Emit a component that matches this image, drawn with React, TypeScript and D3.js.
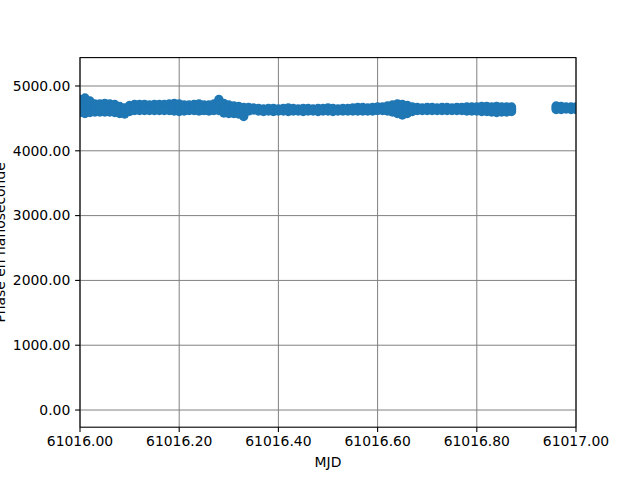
import React from "react";
import * as d3 from "d3";

const mjd = [
  61016.00, 61016.01, 61016.02, 61016.03, 61016.04, 61016.05, 61016.06, 61016.07, 61016.08, 61016.09,
  61016.10, 61016.11, 61016.12, 61016.13, 61016.14, 61016.15, 61016.16, 61016.17, 61016.18, 61016.19,
  61016.20, 61016.21, 61016.22, 61016.23, 61016.24, 61016.25, 61016.26, 61016.27, 61016.28, 61016.29,
  61016.30, 61016.31, 61016.32, 61016.33, 61016.34, 61016.35, 61016.36, 61016.37, 61016.38, 61016.39,
  61016.40, 61016.41, 61016.42, 61016.43, 61016.44, 61016.45, 61016.46, 61016.47, 61016.48, 61016.49,
  61016.50, 61016.51, 61016.52, 61016.53, 61016.54, 61016.55, 61016.56, 61016.57, 61016.58, 61016.59,
  61016.60, 61016.61, 61016.62, 61016.63, 61016.64, 61016.65, 61016.66, 61016.67, 61016.68, 61016.69,
  61016.70, 61016.71, 61016.72, 61016.73, 61016.74, 61016.75, 61016.76, 61016.77, 61016.78, 61016.79,
  61016.80, 61016.81, 61016.82, 61016.83, 61016.84, 61016.85, 61016.86, 61016.87,
  61016.96, 61016.97, 61016.98, 61016.99, 61017.00,
];

const phaseHi = [
  4792, 4815, 4768, 4722, 4722, 4730, 4722, 4714, 4684, 4660,
  4699, 4714, 4714, 4714, 4707, 4714, 4714, 4714, 4722, 4730,
  4722, 4707, 4707, 4714, 4722, 4707, 4707, 4722, 4792, 4730,
  4707, 4691, 4684, 4668, 4668, 4660, 4653, 4645, 4653, 4653,
  4645, 4653, 4660, 4653, 4645, 4653, 4653, 4645, 4653, 4653,
  4660, 4653, 4645, 4653, 4653, 4660, 4668, 4668, 4660, 4668,
  4676, 4676, 4691, 4707, 4722, 4714, 4699, 4676, 4668, 4660,
  4668, 4668, 4660, 4668, 4668, 4660, 4668, 4668, 4676, 4676,
  4676, 4684, 4684, 4676, 4684, 4676, 4676, 4676,
  4691, 4684, 4676, 4676, 4676,
];

const phaseMid = [
  4691, 4695, 4680, 4660, 4660, 4665, 4660, 4652, 4630, 4614,
  4653, 4668, 4668, 4668, 4665, 4668, 4668, 4668, 4672, 4672,
  4665, 4660, 4665, 4668, 4668, 4665, 4660, 4672, 4707, 4657,
  4642, 4634, 4626, 4599, 4641, 4645, 4633, 4626, 4633, 4630,
  4630, 4633, 4633, 4633, 4630, 4630, 4633, 4630, 4630, 4633,
  4637, 4630, 4630, 4633, 4633, 4637, 4641, 4641, 4637, 4641,
  4649, 4649, 4653, 4653, 4649, 4633, 4637, 4641, 4645, 4641,
  4645, 4645, 4641, 4645, 4645, 4641, 4645, 4645, 4645, 4645,
  4645, 4645, 4645, 4637, 4637, 4637, 4637, 4641,
  4664, 4660, 4660, 4656, 4656,
];

const phaseLo = [
  4591, 4576, 4591, 4599, 4599, 4599, 4599, 4591, 4576, 4568,
  4607, 4622, 4622, 4622, 4622, 4622, 4622, 4622, 4622, 4614,
  4607, 4614, 4622, 4622, 4614, 4622, 4614, 4622, 4622, 4583,
  4576, 4576, 4568, 4529, 4614, 4630, 4614, 4607, 4614, 4607,
  4614, 4614, 4607, 4614, 4614, 4607, 4614, 4614, 4607, 4614,
  4614, 4607, 4614, 4614, 4614, 4614, 4614, 4614, 4614, 4614,
  4622, 4622, 4614, 4599, 4576, 4552, 4576, 4607, 4622, 4622,
  4622, 4622, 4622, 4622, 4622, 4622, 4622, 4622, 4614, 4614,
  4614, 4607, 4607, 4599, 4591, 4599, 4599, 4607,
  4637, 4637, 4645, 4637, 4637,
];

const xTicks = [61016.0, 61016.2, 61016.4, 61016.6, 61016.8, 61017.0];
const yTicks = [0, 1000, 2000, 3000, 4000, 5000];
const xLabel = "MJD";
const yLabel = "Phase en nanoseconde";

const W = 640;
const H = 480;
const L = 80;
const R = 576;
const T = 57.6;
const B = 427.2;
const FONT = "'DejaVu Sans', sans-serif";
const FS = 13.9;
const COLOR = "#1f77b4";

export default function App() {
  const x = d3.scaleLinear().domain([61016, 61017]).range([L, R]);
  const y = d3.scaleLinear().domain([-265, 5438]).range([B, T]);
  const fmt = d3.format(".2f");

  const points: { mx: number; v: number; key: string }[] = [];
  mjd.forEach((m, i) => {
    points.push({ mx: m, v: phaseHi[i], key: `h${i}` });
    points.push({ mx: m, v: phaseMid[i], key: `m${i}` });
    points.push({ mx: m, v: phaseLo[i], key: `l${i}` });
  });

  return (
    <svg
      width={W}
      height={H}
      style={{ position: "absolute", left: 0, top: 0, background: "#fff" }}
      fontFamily={FONT}
    >
      <defs>
        <clipPath id="axclip">
          <rect x={L} y={T} width={R - L} height={B - T} />
        </clipPath>
      </defs>
      <rect x={0} y={0} width={W} height={H} fill="#fff" />
      <g stroke="#808080" strokeWidth={1}>
        {xTicks.map((t) => (
          <line key={`gx${t}`} x1={x(t)} x2={x(t)} y1={T} y2={B} />
        ))}
        {yTicks.map((t) => (
          <line key={`gy${t}`} x1={L} x2={R} y1={y(t)} y2={y(t)} />
        ))}
      </g>
      <g clipPath="url(#axclip)" fill={COLOR}>
        {points.map((p) => (
          <circle key={p.key} cx={x(p.mx)} cy={y(p.v)} r={4.7} />
        ))}
      </g>
      <rect x={L} y={T} width={R - L} height={B - T} fill="none" stroke="#000" strokeWidth={1.1} />
      {xTicks.map((t) => (
        <g key={`xt${t}`}>
          <line x1={x(t)} x2={x(t)} y1={B} y2={B + 4.9} stroke="#000" strokeWidth={1.1} />
          <text x={x(t)} y={446} textAnchor="middle" fontSize={FS} fill="#000">
            {fmt(t)}
          </text>
        </g>
      ))}
      {yTicks.map((t) => (
        <g key={`yt${t}`}>
          <line x1={L - 4.9} x2={L} y1={y(t)} y2={y(t)} stroke="#000" strokeWidth={1.1} />
          <text x={70.3} y={y(t)} dy="0.35em" textAnchor="end" fontSize={FS} fill="#000">
            {fmt(t)}
          </text>
        </g>
      ))}
      <text x={(L + R) / 2} y={467} textAnchor="middle" fontSize={FS} fill="#000">
        {xLabel}
      </text>
      <text
        transform={`translate(5, ${(T + B) / 2}) rotate(-90)`}
        textAnchor="middle"
        fontSize={FS}
        fill="#000"
      >
        {yLabel}
      </text>
    </svg>
  );
}
